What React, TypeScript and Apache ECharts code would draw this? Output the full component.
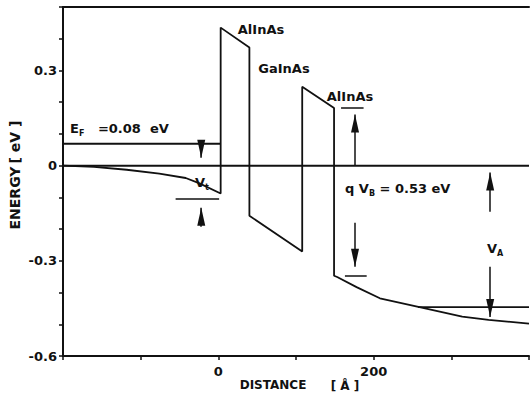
import React, { useEffect, useRef } from "react";
import * as echarts from "echarts";

// Conduction band profile (distance in Å, energy in eV)
const distance = [-200, -160, -118, -76, -42, -25, 3, 3, 40, 40, 108, 108, 149, 149, 153, 178, 208, 259, 314, 348, 400];
const energy = [0, -0.004, -0.013, -0.025, -0.039, -0.055, -0.088, 0.435, 0.372, -0.158, -0.271, 0.249, 0.182, -0.347, -0.351, -0.383, -0.418, -0.446, -0.476, -0.486, -0.498];

// Reference (zero) line and Fermi levels
const zeroX = [-200, 400];
const zeroY = [0, 0];
const fermiLeftX = [-200, 3];
const fermiLeftY = [0.069, 0.069];
const fermiRightX = [257, 400];
const fermiRightY = [-0.446, -0.446];

// Annotation arrows (x, from y, to y = tip)
const arrowX = [-22, -22, 176, 176, 350, 350];
const arrowFromY = [0.069, -0.193, 0, -0.18, -0.145, -0.319];
const arrowToY = [0.025, -0.133, 0.161, -0.319, -0.022, -0.477];

// Short marker bars (y, from x, to x)
const barY = [-0.104, 0.183, -0.347];
const barFromX = [-55, 158, 163];
const barToX = [1, 187, 191];

// Tick labels
const xTickLabels: Record<string, string> = { "0": "0", "200": "200" };
const yTickLabels: Record<string, string> = { "3": "0.3", "0": "0", "-3": "-0.3", "-6": "-0.6" };

const INK = "#111";
const FONT = "DejaVu Sans";

export default function App() {
  const ref = useRef<HTMLDivElement>(null);
  useEffect(() => {
    if (!ref.current) return;
    const chart = echarts.init(ref.current, undefined, { renderer: "svg" });
    const pairs = (xs: number[], ys: number[]) => xs.map((x, i) => [x, ys[i]]);
    const lineSeries = (data: number[][], width: number) => ({
      type: "line",
      data,
      showSymbol: false,
      symbol: "none",
      silent: true,
      lineStyle: { color: INK, width },
      z: 3,
    });
    const markData: any[] = [];
    arrowX.forEach((x, i) => {
      markData.push([
        { coord: [x, arrowFromY[i]], symbol: "none" },
        { coord: [x, arrowToY[i]], symbol: "triangle", symbolSize: [8, 18], symbolOffset: [0, 9] },
      ]);
    });
    barY.forEach((y, i) => {
      markData.push([
        { coord: [barFromX[i], y], symbol: "none" },
        { coord: [barToX[i], y], symbol: "none" },
      ]);
    });
    const baseText = { fill: INK, fontFamily: FONT, fontWeight: "bold", fontSize: 13 };
    const rich = {
      a: { fill: INK, fontFamily: FONT, fontWeight: "bold", fontSize: 13, verticalAlign: "bottom" },
      s: { fill: INK, fontFamily: FONT, fontWeight: "bold", fontSize: 8, verticalAlign: "bottom", padding: [0, 0, -2, 0] },
    };
    chart.setOption({
      animation: false,
      backgroundColor: "#fff",
      grid: { left: 63, top: 7, right: -3, bottom: 38 },
      xAxis: [
        {
          type: "value",
          min: -200,
          max: 400,
          interval: 100,
          splitLine: { show: false },
          axisLine: { show: true, onZero: false, lineStyle: { color: INK, width: 2 } },
          axisTick: { show: true, length: 4, inside: false, lineStyle: { color: INK, width: 1.5 } },
          axisLabel: {
            color: INK,
            fontFamily: FONT,
            fontWeight: "bold",
            fontSize: 13,
            margin: 9,
            showMinLabel: true,
            showMaxLabel: true,
            formatter: (v: number) => xTickLabels[String(Math.round(v))] ?? "",
          },
        },
        {
          type: "value",
          position: "top",
          min: -200,
          max: 400,
          splitLine: { show: false },
          axisLine: { show: true, onZero: false, lineStyle: { color: INK, width: 2 } },
          axisTick: { show: false },
          axisLabel: { show: false },
        },
      ],
      yAxis: {
        type: "value",
        min: -0.6,
        max: 0.5,
        interval: 0.1,
        splitLine: { show: false },
        axisLine: { show: true, onZero: false, lineStyle: { color: INK, width: 2 } },
        axisTick: { show: true, length: 4, inside: false, lineStyle: { color: INK, width: 1.5 } },
        axisLabel: {
          color: INK,
          fontFamily: FONT,
          fontWeight: "bold",
          fontSize: 13,
          margin: 6,
          formatter: (v: number) => yTickLabels[String(Math.round(v * 10))] ?? "",
        },
      },
      series: [
        lineSeries(pairs(zeroX, zeroY), 2),
        lineSeries(pairs(fermiLeftX, fermiLeftY), 2),
        lineSeries(pairs(fermiRightX, fermiRightY), 1.6),
        lineSeries(pairs(distance, energy), 1.8),
        {
          type: "line",
          data: [],
          silent: true,
          markLine: {
            silent: true,
            animation: false,
            symbol: ["none", "none"],
            label: { show: false },
            emphasis: { disabled: true },
            lineStyle: { color: INK, width: 1.5, type: "solid" },
            itemStyle: { color: INK },
            data: markData,
          },
        },
      ],
      graphic: [
        { type: "text", x: 15, y: 198, rotation: Math.PI / 2, style: { ...baseText, fontSize: 14, text: "ENERGY", align: "center", verticalAlign: "middle" } },
        { type: "text", x: 15, y: 142, rotation: Math.PI / 2, style: { ...baseText, fontSize: 14, text: "[ eV ]", align: "center", verticalAlign: "middle" } },
        { type: "text", x: 273, y: 385, style: { ...baseText, fontSize: 12, text: "DISTANCE", align: "center", verticalAlign: "middle" } },
        { type: "text", x: 345, y: 386, style: { ...baseText, fontSize: 12, text: "[ Å ]", align: "center", verticalAlign: "middle" } },
        { type: "text", x: 261, y: 29, style: { ...baseText, text: "AlInAs", align: "center", verticalAlign: "middle" } },
        { type: "text", x: 284, y: 68, style: { ...baseText, text: "GaInAs", align: "center", verticalAlign: "middle" } },
        { type: "text", x: 350, y: 96, style: { ...baseText, text: "AlInAs", align: "center", verticalAlign: "middle" } },
        { type: "text", x: 70, y: 122, style: { ...baseText, text: "{a|E}{s|F}{a|   =0.08  eV}", rich } },
        { type: "text", x: 195, y: 176, style: { ...baseText, text: "{a|V}{s|t}", rich } },
        { type: "text", x: 345, y: 182, style: { ...baseText, text: "{a|q }{a|V}{s|B}{a| = 0.53 eV}", rich } },
        { type: "text", x: 487, y: 242, style: { ...baseText, text: "{a|V}{s|A}", rich } },
      ],
    });
    return () => chart.dispose();
  }, []);
  return <div ref={ref} style={{ position: "fixed", left: 0, top: 0, width: 532, height: 394 }} />;
}
